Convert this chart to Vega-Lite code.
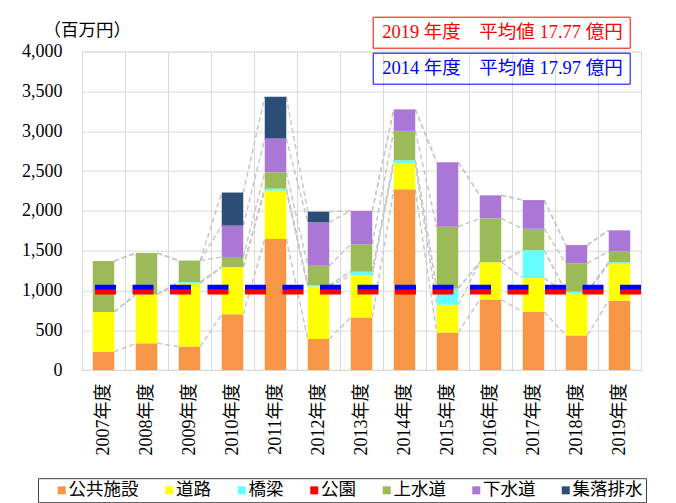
{
  "$schema": "https://vega.github.io/schema/vega-lite/v6.json",
  "width": 559,
  "height": 318.3,
  "autosize": {"type": "none"},
  "padding": {"left": 82, "top": 51.7, "right": 35, "bottom": 133},
  "background": "white",
  "config": {
    "view": {"stroke": "#d9d9d9", "strokeWidth": 1},
    "font": "Liberation Serif, Noto Sans CJK JP",
    "axisX": {
      "labelAngle": 270, "labelFontSize": 18, "labelFont": "Liberation Serif, Noto Sans CJK JP",
      "labelColor": "#000000", "labelPadding": 13, "ticks": false, "tickBand": "extent",
      "grid": true, "gridColor": "#d9d9d9", "domainColor": "#d9d9d9"
    },
    "axisY": {
      "labelFontSize": 18, "labelFont": "Liberation Serif", "labelColor": "#000000", "labelPadding": 20,
      "ticks": false, "domain": false, "grid": true, "gridColor": "#d9d9d9",
      "titleAngle": 0, "titleX": -39, "titleY": -21, "titleAlign": "left", "titleBaseline": "middle",
      "titleFont": "Liberation Serif, Noto Sans CJK JP", "titleFontSize": 17.5, "titleFontWeight": "normal", "titleColor": "#000000"
    }
  },
  "datasets": {
    "costs": [
      {"year": "2007年度", "cat": "公共施設", "value": 230}, {"year": "2007年度", "cat": "道路", "value": 500}, {"year": "2007年度", "cat": "橋梁", "value": 0}, {"year": "2007年度", "cat": "公園", "value": 0}, {"year": "2007年度", "cat": "上水道", "value": 640}, {"year": "2007年度", "cat": "下水道", "value": 0}, {"year": "2007年度", "cat": "集落排水", "value": 0},
      {"year": "2008年度", "cat": "公共施設", "value": 335}, {"year": "2008年度", "cat": "道路", "value": 615}, {"year": "2008年度", "cat": "橋梁", "value": 0}, {"year": "2008年度", "cat": "公園", "value": 0}, {"year": "2008年度", "cat": "上水道", "value": 520}, {"year": "2008年度", "cat": "下水道", "value": 0}, {"year": "2008年度", "cat": "集落排水", "value": 0},
      {"year": "2009年度", "cat": "公共施設", "value": 295}, {"year": "2009年度", "cat": "道路", "value": 790}, {"year": "2009年度", "cat": "橋梁", "value": 20}, {"year": "2009年度", "cat": "公園", "value": 0}, {"year": "2009年度", "cat": "上水道", "value": 270}, {"year": "2009年度", "cat": "下水道", "value": 0}, {"year": "2009年度", "cat": "集落排水", "value": 0},
      {"year": "2010年度", "cat": "公共施設", "value": 700}, {"year": "2010年度", "cat": "道路", "value": 595}, {"year": "2010年度", "cat": "橋梁", "value": 0}, {"year": "2010年度", "cat": "公園", "value": 0}, {"year": "2010年度", "cat": "上水道", "value": 125}, {"year": "2010年度", "cat": "下水道", "value": 395}, {"year": "2010年度", "cat": "集落排水", "value": 415},
      {"year": "2011年度", "cat": "公共施設", "value": 1645}, {"year": "2011年度", "cat": "道路", "value": 610}, {"year": "2011年度", "cat": "橋梁", "value": 25}, {"year": "2011年度", "cat": "公園", "value": 0}, {"year": "2011年度", "cat": "上水道", "value": 205}, {"year": "2011年度", "cat": "下水道", "value": 425}, {"year": "2011年度", "cat": "集落排水", "value": 525},
      {"year": "2012年度", "cat": "公共施設", "value": 390}, {"year": "2012年度", "cat": "道路", "value": 660}, {"year": "2012年度", "cat": "橋梁", "value": 15}, {"year": "2012年度", "cat": "公園", "value": 0}, {"year": "2012年度", "cat": "上水道", "value": 245}, {"year": "2012年度", "cat": "下水道", "value": 545}, {"year": "2012年度", "cat": "集落排水", "value": 135},
      {"year": "2013年度", "cat": "公共施設", "value": 660}, {"year": "2013年度", "cat": "道路", "value": 525}, {"year": "2013年度", "cat": "橋梁", "value": 50}, {"year": "2013年度", "cat": "公園", "value": 0}, {"year": "2013年度", "cat": "上水道", "value": 345}, {"year": "2013年度", "cat": "下水道", "value": 420}, {"year": "2013年度", "cat": "集落排水", "value": 0},
      {"year": "2014年度", "cat": "公共施設", "value": 2270}, {"year": "2014年度", "cat": "道路", "value": 325}, {"year": "2014年度", "cat": "橋梁", "value": 40}, {"year": "2014年度", "cat": "公園", "value": 0}, {"year": "2014年度", "cat": "上水道", "value": 370}, {"year": "2014年度", "cat": "下水道", "value": 270}, {"year": "2014年度", "cat": "集落排水", "value": 0},
      {"year": "2015年度", "cat": "公共施設", "value": 470}, {"year": "2015年度", "cat": "道路", "value": 350}, {"year": "2015年度", "cat": "橋梁", "value": 205}, {"year": "2015年度", "cat": "公園", "value": 0}, {"year": "2015年度", "cat": "上水道", "value": 775}, {"year": "2015年度", "cat": "下水道", "value": 810}, {"year": "2015年度", "cat": "集落排水", "value": 0},
      {"year": "2016年度", "cat": "公共施設", "value": 885}, {"year": "2016年度", "cat": "道路", "value": 470}, {"year": "2016年度", "cat": "橋梁", "value": 0}, {"year": "2016年度", "cat": "公園", "value": 0}, {"year": "2016年度", "cat": "上水道", "value": 550}, {"year": "2016年度", "cat": "下水道", "value": 290}, {"year": "2016年度", "cat": "集落排水", "value": 0},
      {"year": "2017年度", "cat": "公共施設", "value": 730}, {"year": "2017年度", "cat": "道路", "value": 425}, {"year": "2017年度", "cat": "橋梁", "value": 350}, {"year": "2017年度", "cat": "公園", "value": 0}, {"year": "2017年度", "cat": "上水道", "value": 270}, {"year": "2017年度", "cat": "下水道", "value": 360}, {"year": "2017年度", "cat": "集落排水", "value": 0},
      {"year": "2018年度", "cat": "公共施設", "value": 435}, {"year": "2018年度", "cat": "道路", "value": 530}, {"year": "2018年度", "cat": "橋梁", "value": 20}, {"year": "2018年度", "cat": "公園", "value": 0}, {"year": "2018年度", "cat": "上水道", "value": 355}, {"year": "2018年度", "cat": "下水道", "value": 230}, {"year": "2018年度", "cat": "集落排水", "value": 0},
      {"year": "2019年度", "cat": "公共施設", "value": 870}, {"year": "2019年度", "cat": "道路", "value": 465}, {"year": "2019年度", "cat": "橋梁", "value": 20}, {"year": "2019年度", "cat": "公園", "value": 0}, {"year": "2019年度", "cat": "上水道", "value": 135}, {"year": "2019年度", "cat": "下水道", "value": 265}, {"year": "2019年度", "cat": "集落排水", "value": 0}
    ],
    "avg2019": [{"label": "2019 年度　平均値 17.77 億円", "v": 980}],
    "avg2014": [{"label": "2014 年度　平均値 17.97 億円", "v": 1040}]
  },
  "layer": [
    {
      "data": {"name": "costs"},
      "transform": [
        {"calculate": "indexof(['公共施設','道路','橋梁','公園','上水道','下水道','集落排水'], datum.cat)", "as": "ci"},
        {"stack": "value", "groupby": ["year"], "sort": [{"field": "ci"}], "as": ["s0", "s1"]},
        {"window": [{"op": "lead", "field": "s1", "as": "n1"}, {"op": "lead", "field": "year", "as": "nyear"}], "groupby": ["cat"], "sort": [{"field": "year"}]},
        {"filter": "datum.nyear != null"}
      ],
      "mark": {"type": "rule", "color": "#c8c8c8", "strokeWidth": 1.5, "strokeDash": [5, 3], "xOffset": 10.75, "x2Offset": -10.75},
      "encoding": {
        "x": {"field": "year", "type": "nominal", "scale": {"paddingInner": 0, "paddingOuter": 0}, "axis": {"title": null}},
        "x2": {"field": "nyear"},
        "y": {"field": "s1", "type": "quantitative", "scale": {"domain": [0, 4000]}, "axis": {"title": "（百万円）", "values": [0, 500, 1000, 1500, 2000, 2500, 3000, 3500, 4000], "format": ",.0f"}},
        "y2": {"field": "n1"}
      }
    },
    {
      "data": {"name": "costs"},
      "transform": [
        {"calculate": "indexof(['公共施設','道路','橋梁','公園','上水道','下水道','集落排水'], datum.cat)", "as": "ci"}
      ],
      "mark": {"type": "bar", "width": {"band": 0.5}},
      "encoding": {
        "x": {"field": "year", "type": "nominal", "scale": {"paddingInner": 0, "paddingOuter": 0}, "axis": {"title": null}},
        "y": {
          "field": "value", "type": "quantitative", "aggregate": "sum", "stack": "zero",
          "scale": {"domain": [0, 4000]},
          "axis": {"title": "（百万円）", "values": [0, 500, 1000, 1500, 2000, 2500, 3000, 3500, 4000], "format": ",.0f"}
        },
        "color": {
          "field": "cat", "type": "nominal",
          "sort": ["公共施設", "道路", "橋梁", "公園", "上水道", "下水道", "集落排水"],
          "scale": {
            "domain": ["公共施設", "道路", "橋梁", "公園", "上水道", "下水道", "集落排水"],
            "range": ["#F79646", "#FFFF00", "#66FFFF", "#FF0000", "#9BBB59", "#AB77D6", "#2C4D75"]
          },
          "legend": {
            "orient": "none", "legendX": -44, "legendY": 426.5, "direction": "horizontal",
            "title": "　", "titleOrient": "left", "titleFontSize": 17, "titlePadding": 12,
            "padding": 3, "strokeColor": "#404040", "fillColor": "#ffffff",
            "symbolType": "square", "symbolSize": 64, "symbolStrokeWidth": 0,
            "labelFont": "Liberation Serif, Noto Sans CJK JP", "labelFontSize": 17.5, "labelColor": "#000000",
            "labelOffset": -2, "columnPadding": 21.5, "labelLimit": 200
          }
        },
        "order": {"field": "ci", "type": "quantitative"}
      }
    },
    {
      "data": {"name": "avg2019"},
      "mark": {"type": "rule", "strokeWidth": 4.8, "strokeDash": [21, 16.5]},
      "encoding": {
        "y": {"field": "v", "type": "quantitative", "axis": {"title": "（百万円）", "values": [0, 500, 1000, 1500, 2000, 2500, 3000, 3500, 4000], "format": ",.0f"}},
        "stroke": {
          "field": "label", "type": "nominal",
          "scale": {"range": ["#FF0000"]},
          "legend": {
            "orient": "none", "legendX": 290.7, "legendY": -35, "title": null, "padding": 6,
            "strokeColor": "#FF0000", "labelColor": "#FF0000", "labelFontSize": 18.5,
            "labelFont": "Liberation Serif, Noto Sans CJK JP",
            "symbolSize": 0, "symbolOpacity": 0, "symbolStrokeWidth": 0, "labelOffset": -15, "labelLimit": 400
          }
        }
      }
    },
    {
      "data": {"name": "avg2014"},
      "mark": {"type": "rule", "strokeWidth": 4.8, "strokeDash": [21, 16.5]},
      "encoding": {
        "y": {"field": "v", "type": "quantitative", "axis": {"title": "（百万円）", "values": [0, 500, 1000, 1500, 2000, 2500, 3000, 3500, 4000], "format": ",.0f"}},
        "stroke": {
          "field": "label", "type": "nominal",
          "scale": {"range": ["#0000FF"]},
          "legend": {
            "orient": "none", "legendX": 290.7, "legendY": 1, "title": null, "padding": 6,
            "strokeColor": "#0000FF", "labelColor": "#0000FF", "labelFontSize": 18.5,
            "labelFont": "Liberation Serif, Noto Sans CJK JP",
            "symbolSize": 0, "symbolOpacity": 0, "symbolStrokeWidth": 0, "labelOffset": -15, "labelLimit": 400
          }
        }
      }
    }
  ],
  "resolve": {"scale": {"stroke": "independent"}, "legend": {"stroke": "independent"}}
}
